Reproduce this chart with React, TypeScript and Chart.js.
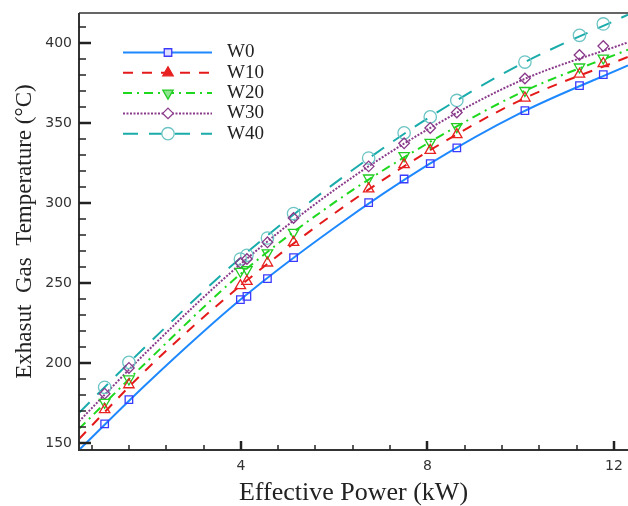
import React, { useEffect, useRef } from 'react';
import { Chart, registerables } from 'chart.js';

Chart.register(...registerables);

const seriesNames = ['W0', 'W10', 'W20', 'W30', 'W40'];

// measured operating points (markers)
const powerKW = [1.08, 1.6, 3.99, 4.13, 4.57, 5.13, 6.74, 7.5, 8.06, 8.63, 10.09, 11.26, 11.77];
const tempW0 = [161.9, 177.1, 239.6, 241.6, 252.7, 265.8, 300.2, 315.0, 324.6, 334.4, 357.7, 373.3, 380.2];
const tempW10 = [170.8, 186.4, 248.3, 251.0, 262.5, 275.4, 308.8, 324.0, 332.9, 342.7, 365.6, 380.5, 387.2];
const tempW20 = [175.4, 190.0, 257.3, 258.3, 268.8, 281.6, 315.6, 329.6, 337.9, 347.7, 370.3, 385.0, 390.6];
const tempW30 = [180.8, 196.9, 262.5, 265.0, 275.4, 290.6, 322.9, 337.3, 346.9, 356.6, 377.8, 392.5, 398.1];
const tempW40 = [184.8, 200.4, 265.0, 267.3, 278.1, 293.4, 328.1, 343.8, 353.8, 364.1, 388.1, 404.8, 411.9];

// fitted curves
const fitKW = [0.53, 2, 4, 6, 8, 10, 12.3];
const fitW0 = [145.6, 187.5, 239.8, 284.4, 323.6, 356.3, 386.0];
const fitW10 = [152.5, 196.6, 248.5, 293.4, 332.0, 364.3, 391.3];
const fitW20 = [158.8, 201.2, 255.8, 300.2, 337.2, 368.9, 395.8];
const fitW30 = [163.5, 207.5, 262.0, 308.0, 345.9, 376.5, 400.4];
const fitW40 = [168.8, 211.5, 265.8, 312.1, 352.8, 386.7, 417.7];

const xTickLabels = [4, 8, 12];
const yTickLabels = [150, 200, 250, 300, 350, 400];

const markerSets = [tempW0, tempW10, tempW20, tempW30, tempW40];
const fitSets = [fitW0, fitW10, fitW20, fitW30, fitW40];

const styles = [
  { line: '#1e88ff', mark: '#3a3aff', dash: [] as number[], shape: 'rect', rot: 0, r: 5.3, legendFill: 'rgba(200,200,255,0.6)' },
  { line: '#e41a1a', mark: '#e82020', dash: [10, 9], shape: 'triangle', rot: 0, r: 6, legendFill: '#e82020' },
  { line: '#1ed81e', mark: '#22cc22', dash: [9, 5, 2, 5], shape: 'triangle', rot: 180, r: 6, legendFill: 'rgba(34,204,34,0.5)' },
  { line: '#8a3a8a', mark: '#8a3a8a', dash: [2, 1.5], shape: 'rectRot', rot: 0, r: 5.3, legendFill: 'rgba(255,255,255,0)' },
  { line: '#1aabab', mark: '#6cc4c4', dash: [15, 11], shape: 'circle', rot: 0, r: 6.2, legendFill: 'rgba(255,255,255,0)' },
];

function drawMarker(ctx: CanvasRenderingContext2D, shape: string, rot: number, r: number, x: number, y: number) {
  ctx.beginPath();
  if (shape === 'rect') {
    const s = Math.SQRT1_2 * r;
    ctx.rect(x - s, y - s, 2 * s, 2 * s);
  } else if (shape === 'triangle') {
    const sgn = rot === 180 ? -1 : 1;
    for (let k = 0; k < 3; k++) {
      const ang = -Math.PI / 2 + (k * 2 * Math.PI) / 3;
      const px = x + Math.cos(ang) * r;
      const py = y + Math.sin(ang) * r * sgn;
      if (k === 0) ctx.moveTo(px, py);
      else ctx.lineTo(px, py);
    }
    ctx.closePath();
  } else if (shape === 'rectRot') {
    ctx.moveTo(x, y - r);
    ctx.lineTo(x + r, y);
    ctx.lineTo(x, y + r);
    ctx.lineTo(x - r, y);
    ctx.closePath();
  } else {
    ctx.arc(x, y, r, 0, Math.PI * 2);
  }
}

const decorPlugin = {
  id: 'decor',
  afterDraw(chart: any) {
    const { ctx, chartArea: a, scales } = chart;
    const xs = scales.x;
    const ys = scales.y;
    ctx.save();
    ctx.setLineDash([]);
    // top frame
    ctx.strokeStyle = '#666';
    ctx.lineWidth = 2;
    ctx.beginPath();
    ctx.moveTo(a.left, a.top);
    ctx.lineTo(a.right, a.top);
    ctx.stroke();
    // axes
    ctx.strokeStyle = '#333';
    ctx.beginPath();
    ctx.moveTo(a.left, a.top);
    ctx.lineTo(a.left, a.bottom);
    ctx.lineTo(a.right, a.bottom);
    ctx.stroke();
    // x ticks
    ctx.strokeStyle = '#222';
    for (let k = 1; k * 0.8 <= xs.max + 1e-9; k++) {
      const v = k * 0.8;
      const px = Math.round(xs.getPixelForValue(v));
      const major = Math.abs(v / 4 - Math.round(v / 4)) < 1e-6;
      ctx.lineWidth = major ? 2.5 : 1.5;
      ctx.beginPath();
      ctx.moveTo(px, a.bottom);
      ctx.lineTo(px, a.bottom - (major ? 9 : 5));
      ctx.stroke();
    }
    // y ticks
    for (let v = 150; v <= ys.max; v += 10) {
      const py = Math.round(ys.getPixelForValue(v));
      const major = v % 50 === 0;
      ctx.lineWidth = major ? 2.5 : 1.5;
      ctx.beginPath();
      ctx.moveTo(a.left, py);
      ctx.lineTo(a.left + (major ? 12 : 7), py);
      ctx.stroke();
    }
    // legend
    const lx0 = 123;
    const lx1 = 212;
    const mx = 168;
    seriesNames.forEach((name, i) => {
      const st = styles[i];
      const ly = 52.5 + i * 20.3;
      ctx.strokeStyle = st.line;
      ctx.lineWidth = 2;
      ctx.setLineDash(st.dash);
      ctx.beginPath();
      ctx.moveTo(lx0, ly);
      ctx.lineTo(lx1, ly);
      ctx.stroke();
      ctx.setLineDash([]);
      drawMarker(ctx, st.shape, st.rot, st.r, mx, ly);
      ctx.fillStyle = '#fff';
      ctx.fill();
      ctx.fillStyle = st.legendFill;
      ctx.fill();
      ctx.strokeStyle = st.mark;
      ctx.lineWidth = 1.3;
      ctx.stroke();
      ctx.fillStyle = '#222';
      ctx.font = '19px "Liberation Serif", "Times New Roman", serif';
      ctx.textAlign = 'left';
      ctx.textBaseline = 'middle';
      ctx.fillText(name, 227, ly);
    });
    ctx.restore();
  },
};

export default function App() {
  const canvasRef = useRef<HTMLCanvasElement | null>(null);

  useEffect(() => {
    document.body.style.margin = '0';
    const canvas = canvasRef.current;
    if (!canvas) return;

    const datasets: any[] = [];
    seriesNames.forEach((name, i) => {
      const st = styles[i];
      datasets.push({
        label: name + ' fit',
        data: fitKW.map((x, j) => ({ x, y: fitSets[i][j] })),
        borderColor: st.line,
        borderWidth: 2,
        borderDash: st.dash,
        pointRadius: 0,
        cubicInterpolationMode: 'monotone',
        fill: false,
        order: 2,
      });
    });
    seriesNames.forEach((name, i) => {
      const st = styles[i];
      datasets.push({
        label: name,
        data: powerKW.map((x, j) => ({ x, y: markerSets[i][j] })),
        showLine: false,
        pointStyle: st.shape,
        pointRotation: st.rot,
        pointRadius: st.r,
        pointBorderWidth: 1.3,
        pointBorderColor: st.mark,
        pointBackgroundColor: 'rgba(255,255,255,0)',
        borderColor: st.mark,
        backgroundColor: 'rgba(255,255,255,0)',
        order: 1,
      });
    });

    const chart = new Chart(canvas, {
      type: 'line',
      data: { datasets },
      options: {
        animation: false,
        responsive: false,
        devicePixelRatio: 1,
        layout: { autoPadding: false, padding: { top: 13, right: 0, left: 0, bottom: 0 } },
        plugins: {
          legend: { display: false },
          tooltip: { enabled: false },
        },
        scales: {
          x: {
            type: 'linear',
            min: 0.53,
            max: 12.3,
            grid: { display: false, drawTicks: false },
            border: { display: false },
            afterBuildTicks: (s: any) => {
              s.ticks = xTickLabels.map((v) => ({ value: v }));
            },
            afterFit: (s: any) => {
              s.height = 56;
              s.paddingLeft = 0;
              s.paddingRight = 0;
              s.paddingTop = 0;
              s.paddingBottom = 0;
            },
            ticks: {
              padding: 8,
              color: '#333',
              maxRotation: 0,
              autoSkip: false,
              font: { family: '"DejaVu Sans", sans-serif', size: 14 },
            },
            title: {
              display: true,
              text: 'Effective Power (kW)',
              color: '#222',
              font: { family: '"Liberation Serif", "Times New Roman", serif', size: 26, lineHeight: 1 },
              padding: { top: 0, bottom: 0 },
            },
          },
          y: {
            type: 'linear',
            min: 145.6,
            max: 418.75,
            grid: { display: false, drawTicks: false },
            border: { display: false },
            afterBuildTicks: (s: any) => {
              s.ticks = yTickLabels.map((v) => ({ value: v }));
            },
            afterFit: (s: any) => {
              s.width = 79;
              s.paddingLeft = 0;
              s.paddingRight = 0;
              s.paddingTop = 0;
              s.paddingBottom = 0;
            },
            ticks: {
              padding: 7,
              color: '#333',
              autoSkip: false,
              font: { family: '"DejaVu Sans", sans-serif', size: 14 },
            },
            title: {
              display: true,
              text: 'Exhasut  Gas  Temperature (°C)',
              color: '#222',
              font: { family: '"Liberation Serif", "Times New Roman", serif', size: 23, lineHeight: 1 },
              padding: { top: 13, bottom: 0 },
            },
          },
        },
      },
      plugins: [decorPlugin],
    } as any);

    return () => chart.destroy();
  }, []);

  return (
    <div style={{ position: 'absolute', left: 0, top: 0, width: 628, height: 506, background: '#fff' }}>
      <canvas ref={canvasRef} width={628} height={506} style={{ display: 'block' }} />
    </div>
  );
}
